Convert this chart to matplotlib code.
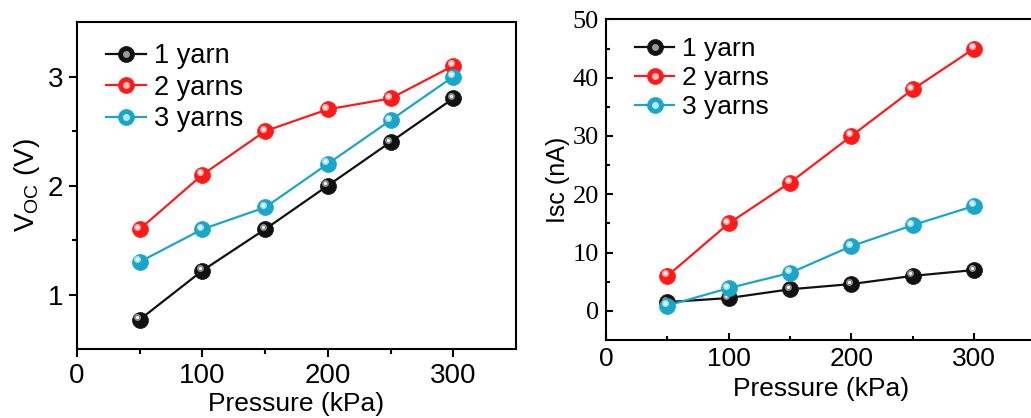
import numpy as np
import matplotlib
matplotlib.use("Agg")
import matplotlib.pyplot as plt
from matplotlib.transforms import offset_copy

plt.rcParams['font.family'] = ['Liberation Sans', 'DejaVu Sans']
plt.rcParams['mathtext.fontset'] = 'custom'
plt.rcParams['mathtext.rm'] = 'Liberation Sans'

pressure = [50, 100, 150, 200, 250, 300]
labels = ["1 yarn", "2 yarns", "3 yarns"]
colors = ["#111111", "#ff1a1a", "#1aa6c8"]
shine = ["#9a9a9a", "#ffc0c0", "#b8ecf8"]

voc_1 = [0.77, 1.22, 1.6, 2.0, 2.4, 2.8]
voc_2 = [1.6, 2.1, 2.5, 2.7, 2.8, 3.1]
voc_3 = [1.3, 1.6, 1.8, 2.2, 2.6, 3.0]

isc_1 = [1.5, 2.2, 3.7, 4.6, 6.0, 7.0]
isc_2 = [6.0, 15.0, 22.0, 30.0, 38.0, 45.0]
isc_3 = [0.9, 3.9, 6.5, 11.1, 14.7, 18.0]

fig = plt.figure(figsize=(10.31, 4.18), dpi=100)
ax1 = fig.add_axes([0.0747, 0.165, 0.4258, 0.782])
ax2 = fig.add_axes([0.5878, 0.1866, 0.4165, 0.767])


def balls(ax, ys):
    hl = offset_copy(ax.transData, fig=fig, x=-2.5, y=2.5, units='dots')
    handles = []
    for y, c, s, lab in zip(ys, colors, shine, labels):
        base, = ax.plot(pressure, y, '-o', color=c, lw=1.6, ms=11.5,
                        mec=c, mew=0.5, label=lab)
        ax.plot(pressure, y, 'o', color=s, ms=5, mew=0, transform=hl, alpha=0.9)
        ax.plot(pressure, y, 'o', color='white', ms=2.2, mew=0, transform=hl)
        dot, = ax.plot([], [], 'o', color=s, ms=5, mew=0)
        handles.append((base, dot))
    return handles


h1 = balls(ax1, [voc_1, voc_2, voc_3])
h2 = balls(ax2, [isc_1, isc_2, isc_3])

for ax in (ax1, ax2):
    for sp in ax.spines.values():
        sp.set_linewidth(1.5)
    ax.set_xlim(0, 350)
    ax.set_xticks([0, 100, 200, 300])
    ax.set_xticks([50, 150, 250], minor=True)

# left panel
ax1.set_ylim(0.5, 3.5)
ax1.set_yticks([1, 2, 3])
ax1.set_yticks([1.5, 2.5], minor=True)
ax1.tick_params(which='both', direction='out', top=False, right=False,
                width=1.5, labelsize=20, pad=4)
ax1.tick_params(which='major', length=6)
ax1.tick_params(which='minor', length=3.5)
ax1.set_xlabel("Pressure (kPa)", fontsize=19, labelpad=2)
ax1.set_ylabel(r"V$_{\mathrm{OC}}$ (V)", fontsize=20, labelpad=4)
ax1.legend(h1, labels, loc='upper left', bbox_to_anchor=(0.03, 0.985),
           frameon=False, fontsize=19.5, handlelength=1.45, handletextpad=0.3,
           labelspacing=0.2, borderaxespad=0.2)

# right panel
ax2.set_ylim(-5, 50)
ax2.set_yticks([0, 10, 20, 30, 40, 50])
ax2.set_yticks([5, 15, 25, 35, 45], minor=True)
ax2.tick_params(which='both', direction='in', top=False, right=False, width=1.5)
ax2.tick_params(which='major', length=5)
ax2.tick_params(which='minor', length=3)
ax2.tick_params(axis='x', labelsize=19, pad=5)
ax2.tick_params(axis='y', labelsize=19, pad=5)
for t in ax2.get_yticklabels():
    t.set_fontfamily('Liberation Serif')
ax2.set_xlabel("Pressure (kPa)", fontsize=19, labelpad=4.5)
ax2.set_ylabel("Isc (nA)", fontsize=18, labelpad=2)
ax2.legend(h2, labels, loc='upper left', bbox_to_anchor=(0.03, 0.995),
           frameon=False, fontsize=19, handlelength=1.5, handletextpad=0.3,
           labelspacing=0.2, borderaxespad=0.2)

fig.savefig("out.png", dpi=100)
